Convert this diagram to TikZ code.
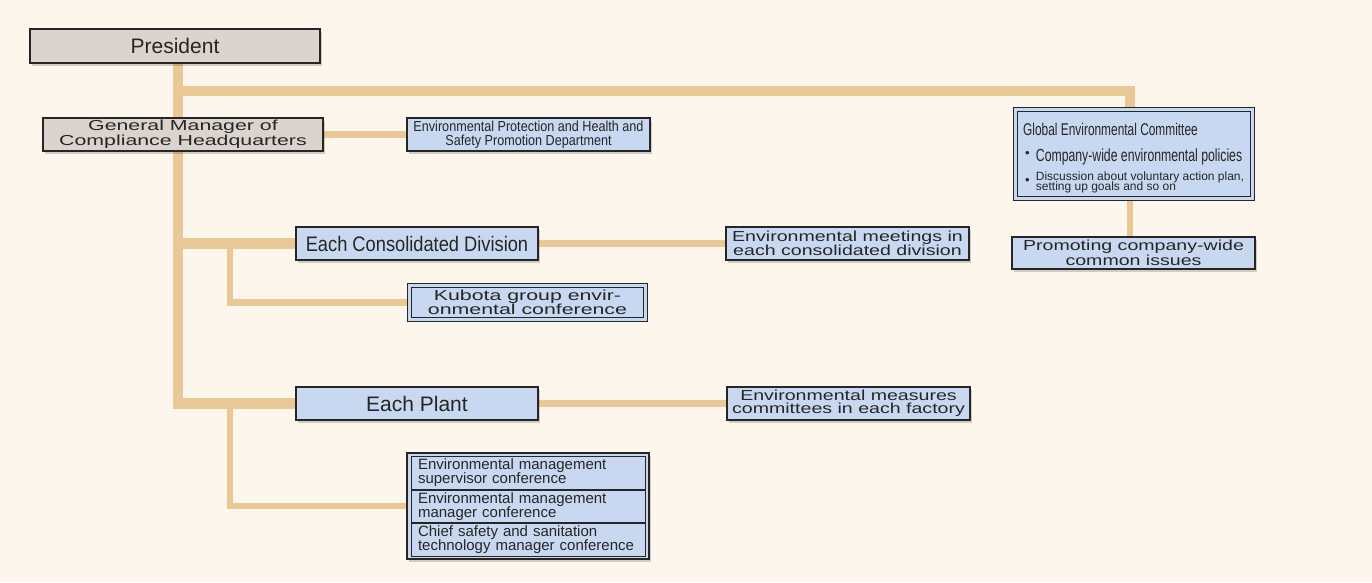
\documentclass[tikz,border=0pt]{standalone}
\usepackage{fontspec}
\setmainfont{Liberation Sans}
\newfontfamily\condfont[FakeStretch=0.87]{Liberation Sans}
\newfontfamily\xcondfont[FakeStretch=0.7]{Liberation Sans}
\newfontfamily\widefont[FakeStretch=1.35]{Liberation Sans}
\newfontfamily\widerfont[FakeStretch=1.47]{Liberation Sans}
\usetikzlibrary{positioning, shadows, backgrounds}
\definecolor{paper}{RGB}{253,246,236}
\definecolor{linetan}{RGB}{234,200,150}
\definecolor{boxgrey}{RGB}{219,211,205}
\definecolor{boxblue}{RGB}{200,216,240}
\definecolor{ink}{RGB}{38,38,38}

\begin{document}
\begin{tikzpicture}[x=1pt, y=-1pt,
		box/.style={draw=ink, line width=1.1pt, text=ink, inner xsep=3pt, inner ysep=0pt, align=center, minimum height=33pt, drop shadow={shadow xshift=2pt, shadow yshift=-2.5pt, opacity=.22, fill=black!80}},
		greybox/.style={box, fill=boxgrey},
		bluebox/.style={box, fill=boxblue},
		framed/.style={double=boxblue, double distance=3pt},
		rowbox/.style={draw=ink, line width=.9pt, text=ink, text width=220pt, align=left, inner xsep=7pt, inner ysep=0pt, minimum height=32.7pt, font=\fontsize{15}{14.3}\selectfont},
		gectext/.style={anchor=base west, inner sep=0pt, text=ink},
		trunk/.style={draw=linetan, line width=10.5pt, preaction={draw=black, opacity=.08, transform canvas={shift={(1.5pt,-1.5pt)}}}},
		branch/.style={trunk, line width=6.5pt}]
			\useasboundingbox (0,0) rectangle (1372,582);
			\begin{scope}[on background layer]
				\fill[paper] (0,0) rectangle (1372,582);
			\end{scope}
			
			\node[greybox, minimum width=290pt, minimum height=34pt, font=\fontsize{21}{24}\selectfont] (pres) at (175,46) {President};
			\node[greybox, minimum width=280pt, font=\widerfont\fontsize{14.5}{12.7}\selectfont] (gm) at (183,134.5) {General Manager of\\Compliance Headquarters};
			\node[bluebox, minimum width=243pt, font=\condfont\fontsize{14.5}{14}\selectfont] (ep) at (528.5,134.5) {Environmental Protection and Health and\\Safety Promotion Department};
			
			\node[bluebox, minimum width=242pt, font=\condfont\fontsize{21}{24}\selectfont] (ecd) at (417,243.5) {Each Consolidated Division};
			\node[bluebox, minimum width=243pt, font=\widefont\fontsize{14.5}{13.3}\selectfont] (emeet) at (847.5,243.5) {Environmental meetings in\\each consolidated division};
			\node[bluebox, framed, minimum width=236pt, minimum height=34pt, font=\widerfont\fontsize{14.5}{13.3}\selectfont] (kub) at (527.5,302.5) {Kubota group envir-\\onmental conference};
			
			\node[bluebox, minimum width=242pt, font=\fontsize{21}{24}\selectfont] (plant) at (417,403.5) {Each Plant};
			\node[bluebox, minimum width=243pt, font=\widefont\fontsize{14.5}{13.3}\selectfont] (emeas) at (848.5,403.5) {Environmental measures\\committees in each factory};
			\node[bluebox, minimum width=242pt, minimum height=106pt] (tri) at (528,506) {};
			\node[rowbox, below=3.5pt of tri.north] (tri1) {Environmental management\\supervisor conference};
			\node[rowbox, below=0pt of tri1] (tri2) {Environmental management\\manager conference};
			\node[rowbox, below=0pt of tri2] (tri3) {Chief safety and sanitation\\technology manager conference};
			
			\node[bluebox, framed, minimum width=237pt, minimum height=89pt] (gec) at (1134,154) {};
			\node[gectext, font=\xcondfont\fontsize{17}{17}\selectfont] (gectitle) at (1023,135) {Global Environmental Committee};
			\node[text=ink, inner sep=0pt, font=\fontsize{13}{13}\selectfont] (dot1) at (1027.5,154) {\textbullet};
			\node[gectext, font=\xcondfont\fontsize{17.5}{17.5}\selectfont] (policy) at (1035.7,161.7) {Company-wide environmental policies};
			\node[text=ink, inner sep=0pt, font=\fontsize{13}{13}\selectfont] (dot2) at (1027.5,181.5) {\textbullet};
			\node[gectext, font=\fontsize{12}{12}\selectfont] (plan1) at (1035.7,180) {Discussion about voluntary action plan,};
			\node[gectext, font=\fontsize{12}{12}\selectfont] (plan2) at (1035.7,190.7) {setting up goals and so on};
			\node[bluebox, minimum width=243pt, minimum height=32pt, font=\widefont\fontsize{14.5}{13.3}\selectfont] (prom) at (1133.5,253) {Promoting company-wide\\common issues};
			
			\coordinate (tk) at (178,91);
			\coordinate (gtop) at (1130,91);
			\coordinate (sub) at (230,0);
			
			\begin{scope}[on background layer]
				\draw[trunk] (pres.south -| tk) -- (tk |- plant.west) -- (plant.west);
				\draw[trunk] (tk) -- (gtop) -- (gtop |- gec.north);
				\draw[trunk] (tk |- ecd.west) -- (ecd.west);
				\draw[branch] (sub |- ecd.west) -- (sub |- kub.west) -- (kub.west);
				\draw[branch] (sub |- plant.west) -- (sub |- tri.west) -- (tri.west);
				\draw[branch] (gm.east) -- (ep.west);
				\draw[branch] (ecd.east) -- (emeet.west);
				\draw[branch] (plant.east) -- (emeas.west);
				\draw[branch] (gec.south -| gtop) -- (prom.north -| gtop);
			\end{scope}
		\end{tikzpicture}
\end{document}
